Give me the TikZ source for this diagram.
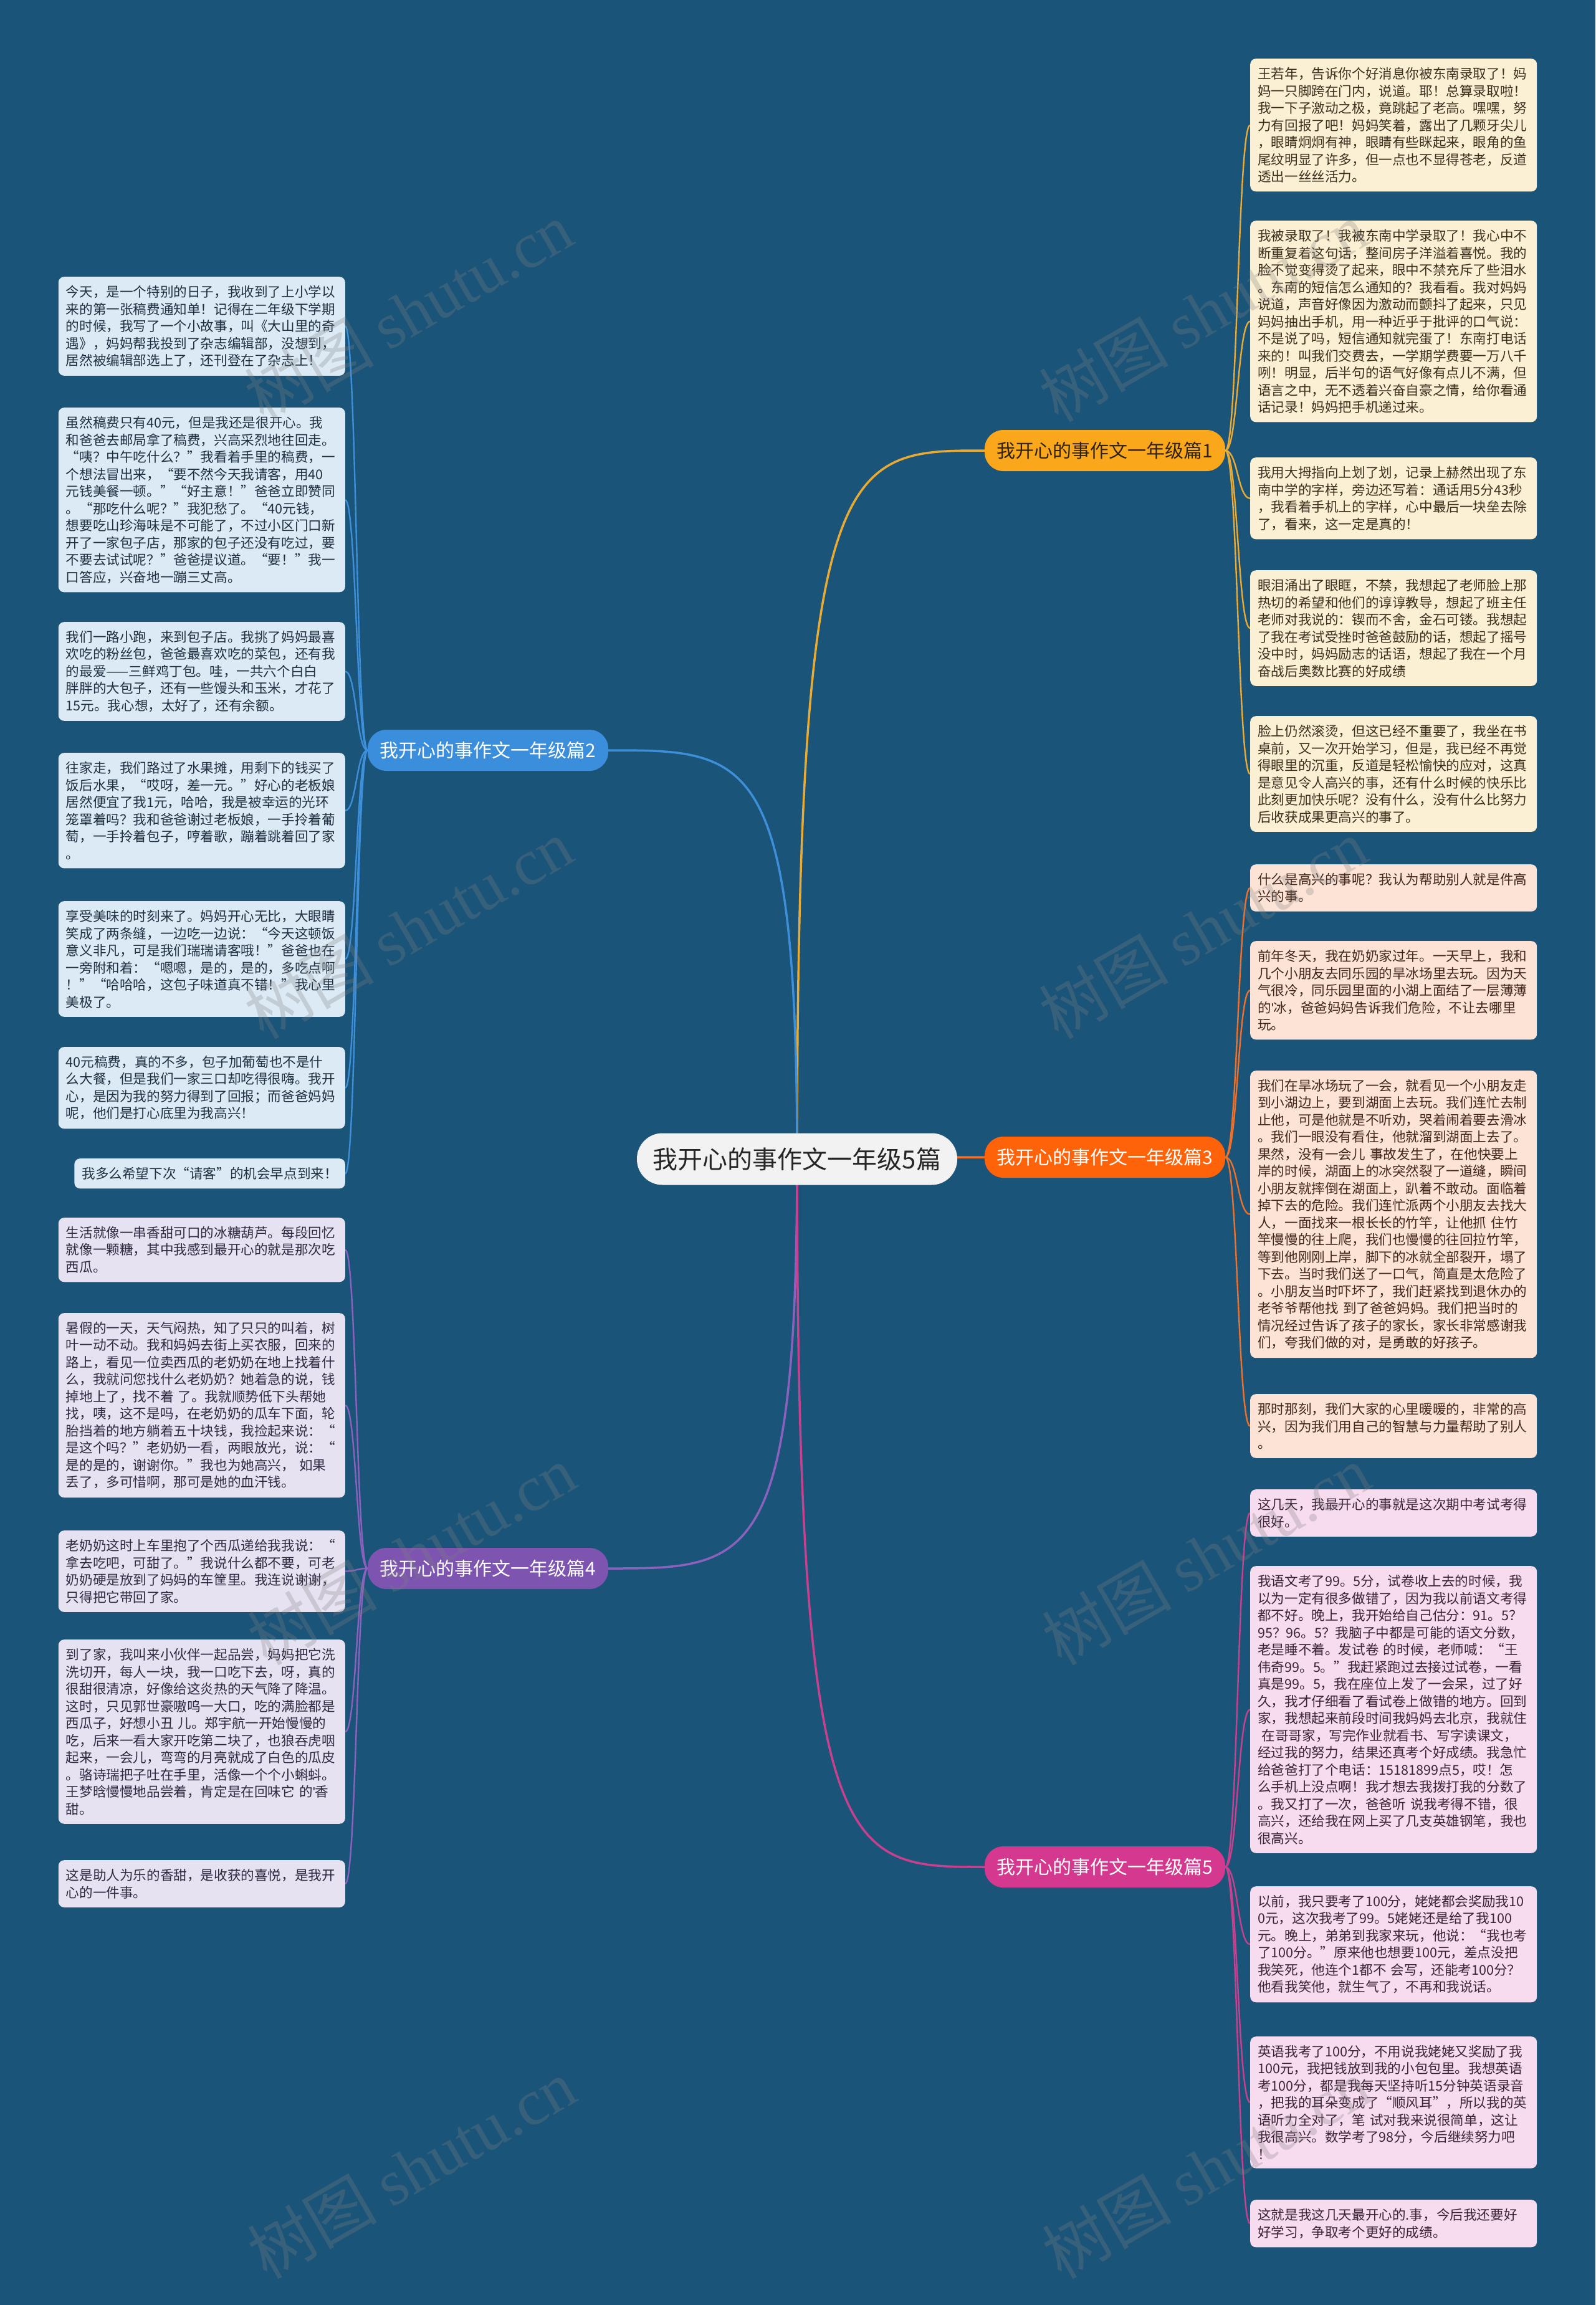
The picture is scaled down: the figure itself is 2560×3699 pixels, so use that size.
\documentclass[tikz,border=0pt]{standalone}
\usepackage{fontspec}
\setmainfont{Noto Sans CJK SC}
\newfontfamily\wmlatin{Liberation Serif}
\newfontfamily\latinsans{Liberation Sans}
\newcommand{\apos}{{\latinsans'}}
\usetikzlibrary{calc}
\definecolor{bgc}{HTML}{1B5479}
\definecolor{centerfill}{HTML}{F2F2F2}
\definecolor{c1}{HTML}{FAA71C}
\definecolor{c2}{HTML}{3A8EDB}
\definecolor{c3}{HTML}{FF6309}
\definecolor{c4}{HTML}{7D55B0}
\definecolor{c5}{HTML}{D4388F}
\definecolor{c1line}{HTML}{E9AB33}
\definecolor{c2line}{HTML}{3D8FDA}
\definecolor{c3line}{HTML}{F0702A}
\definecolor{c4line}{HTML}{8A62BD}
\definecolor{c5line}{HTML}{C9408F}
\definecolor{c1leaf}{HTML}{FCF0D4}
\definecolor{c2leaf}{HTML}{DCEAF6}
\definecolor{c3leaf}{HTML}{FDE3D5}
\definecolor{c4leaf}{HTML}{E7E2F2}
\definecolor{c5leaf}{HTML}{F7DBEF}
\definecolor{c1text}{HTML}{3D2E1E}
\definecolor{c2text}{HTML}{1E2F40}
\definecolor{c3text}{HTML}{40261C}
\definecolor{c4text}{HTML}{2E2840}
\definecolor{c5text}{HTML}{3A2436}
\definecolor{b1text}{HTML}{2E2210}
\pgfdeclarelayer{bg}
\pgfsetlayers{bg,main}
\tikzset{
  leaf/.style={rounded corners=9pt, text width=436pt, inner xsep=12pt, inner ysep=14pt,
    align=left, font=\fontsize{21.6}{27.5}\selectfont},
  leafR/.style={leaf, anchor=north west},
  leafL/.style={leaf, anchor=north east},
  branch/.style={rounded corners=30pt, minimum width=386pt, minimum height=66pt,
    font=\fontsize{30}{34}\selectfont, inner sep=0pt},
  maincurve/.style={line width=3.5pt, to path={let \p1=(\tikztostart), \p2=(\tikztotarget) in
    .. controls (\x1,\y2) and ({\x1+0.25*(\x2-\x1)},\y2) .. (\tikztotarget)}},
  leafcurve/.style={line width=2.4pt, to path={let \p1=(\tikztostart), \p2=(\tikztotarget) in
    .. controls ({0.5*(\x1+\x2)},\y1) and ({0.5*(\x1+\x2)},\y2) .. (\tikztotarget)}},
  wm/.style={text=gray, opacity=0.28, font=\fontsize{104}{110}\selectfont, rotate=30, inner sep=0pt},
}
\begin{document}
\begin{tikzpicture}[x=1pt,y=-1pt]
\useasboundingbox (0,0) rectangle (2560,3699);

% centre and branches
\node[fill=centerfill, rounded corners=41pt, minimum width=514pt, minimum height=83pt,
  font=\fontsize{40}{46}\selectfont, text=black!85] (c) at (1279,1860) {我开心的事作文一年级5篇};
\node[branch, fill=c1, text=b1text] (b1) at (1773,723) {我开心的事作文一年级篇1};
\node[branch, fill=c2, text=white] (b2) at (783,1204) {我开心的事作文一年级篇2};
\node[branch, fill=c3, text=white] (b3) at (1773,1857) {我开心的事作文一年级篇3};
\node[branch, fill=c4, text=white] (b4) at (783,2517) {我开心的事作文一年级篇4};
\node[branch, fill=c5, text=white] (b5) at (1773,2996) {我开心的事作文一年级篇5};

% branch 1 leaves
\node[leafR, fill=c1leaf, text=c1text] (l11) at (2006,94) {王若年，告诉你个好消息你被东南录取了！妈\\妈一只脚跨在门内，说道。耶！总算录取啦！\\我一下子激动之极，竟跳起了老高。嘿嘿，努\\力有回报了吧！妈妈笑着，露出了几颗牙尖儿\\，眼睛炯炯有神，眼睛有些眯起来，眼角的鱼\\尾纹明显了许多，但一点也不显得苍老，反道\\透出一丝丝活力。};
\node[leafR, fill=c1leaf, text=c1text] (l12) at (2006,354) {我被录取了！我被东南中学录取了！我心中不\\断重复着这句话，整间房子洋溢着喜悦。我的\\脸不觉变得烫了起来，眼中不禁充斥了些泪水\\。东南的短信怎么通知的？我看看。我对妈妈\\说道，声音好像因为激动而颤抖了起来，只见\\妈妈抽出手机，用一种近乎于批评的口气说：\\不是说了吗，短信通知就完蛋了！东南打电话\\来的！叫我们交费去，一学期学费要一万八千\\咧！明显，后半句的语气好像有点儿不满，但\\语言之中，无不透着兴奋自豪之情，给你看通\\话记录！妈妈把手机递过来。};
\node[leafR, fill=c1leaf, text=c1text] (l13) at (2006,734) {我用大拇指向上划了划，记录上赫然出现了东\\南中学的字样，旁边还写着：通话用5分43秒\\，我看着手机上的字样，心中最后一块垒去除\\了，看来，这一定是真的！};
\node[leafR, fill=c1leaf, text=c1text] (l14) at (2006,915) {眼泪涌出了眼眶，不禁，我想起了老师脸上那\\热切的希望和他们的谆谆教导，想起了班主任\\老师对我说的：锲而不舍，金石可镂。我想起\\了我在考试受挫时爸爸鼓励的话，想起了摇号\\没中时，妈妈励志的话语，想起了我在一个月\\奋战后奥数比赛的好成绩};
\node[leafR, fill=c1leaf, text=c1text] (l15) at (2006,1149) {脸上仍然滚烫，但这已经不重要了，我坐在书\\桌前，又一次开始学习，但是，我已经不再觉\\得眼里的沉重，反道是轻松愉快的应对，这真\\是意见令人高兴的事，还有什么时候的快乐比\\此刻更加快乐呢？没有什么，没有什么比努力\\后收获成果更高兴的事了。};

% branch 2 leaves
\node[leafL, fill=c2leaf, text=c2text] (l21) at (554,444) {今天，是一个特别的日子，我收到了上小学以\\来的第一张稿费通知单！记得在二年级下学期\\的时候，我写了一个小故事，叫《大山里的奇\\遇》，妈妈帮我投到了杂志编辑部，没想到，\\居然被编辑部选上了，还刊登在了杂志上！};
\node[leafL, fill=c2leaf, text=c2text] (l22) at (554,654) {虽然稿费只有40元，但是我还是很开心。我\\和爸爸去邮局拿了稿费，兴高采烈地往回走。\\“咦？中午吃什么？”我看着手里的稿费，一\\个想法冒出来，“要不然今天我请客，用40\\元钱美餐一顿。”“好主意！”爸爸立即赞同\\。“那吃什么呢？”我犯愁了。“40元钱，\\想要吃山珍海味是不可能了，不过小区门口新\\开了一家包子店，那家的包子还没有吃过，要\\不要去试试呢？”爸爸提议道。“要！”我一\\口答应，兴奋地一蹦三丈高。};
\node[leafL, fill=c2leaf, text=c2text] (l23) at (554,998) {我们一路小跑，来到包子店。我挑了妈妈最喜\\欢吃的粉丝包，爸爸最喜欢吃的菜包，还有我\\的最爱——三鲜鸡丁包。哇，一共六个白白\\胖胖的大包子，还有一些馒头和玉米，才花了\\15元。我心想，太好了，还有余额。};
\node[leafL, fill=c2leaf, text=c2text] (l24) at (554,1208) {往家走，我们路过了水果摊，用剩下的钱买了\\饭后水果，“哎呀，差一元。”好心的老板娘\\居然便宜了我1元，哈哈，我是被幸运的光环\\笼罩着吗？我和爸爸谢过老板娘，一手拎着葡\\萄，一手拎着包子，哼着歌，蹦着跳着回了家\\。};
\node[leafL, fill=c2leaf, text=c2text] (l25) at (554,1446) {享受美味的时刻来了。妈妈开心无比，大眼睛\\笑成了两条缝，一边吃一边说：“今天这顿饭\\意义非凡，可是我们瑞瑞请客哦！”爸爸也在\\一旁附和着：“嗯嗯，是的，是的，多吃点啊\\！”“哈哈哈，这包子味道真不错！”我心里\\美极了。};
\node[leafL, fill=c2leaf, text=c2text] (l26) at (554,1680) {40元稿费，真的不多，包子加葡萄也不是什\\么大餐，但是我们一家三口却吃得很嗨。我开\\心，是因为我的努力得到了回报；而爸爸妈妈\\呢，他们是打心底里为我高兴！};
\node[leafL, fill=c2leaf, text=c2text, text width=] (l27) at (554,1859) {我多么希望下次“请客”的机会早点到来！};

% branch 3 leaves
\node[leafR, fill=c3leaf, text=c3text] (l31) at (2006,1387) {什么是高兴的事呢？我认为帮助别人就是件高\\兴的事。};
\node[leafR, fill=c3leaf, text=c3text] (l32) at (2006,1510) {前年冬天，我在奶奶家过年。一天早上，我和\\几个小朋友去同乐园的旱冰场里去玩。因为天\\气很冷，同乐园里面的小湖上面结了一层薄薄\\的\apos 冰，爸爸妈妈告诉我们危险，不让去哪里\\玩。};
\node[leafR, fill=c3leaf, text=c3text] (l33) at (2006,1718) {我们在旱冰场玩了一会，就看见一个小朋友走\\到小湖边上，要到湖面上去玩。我们连忙去制\\止他，可是他就是不听劝，哭着闹着要去滑冰\\。我们一眼没有看住，他就溜到湖面上去了。\\果然，没有一会儿~事故发生了，在他快要上\\岸的时候，湖面上的冰突然裂了一道缝，瞬间\\小朋友就摔倒在湖面上，趴着不敢动。面临着\\掉下去的危险。我们连忙派两个小朋友去找大\\人，一面找来一根长长的竹竿，让他抓~住竹\\竿慢慢的往上爬，我们也慢慢的往回拉竹竿，\\等到他刚刚上岸，脚下的冰就全部裂开，塌了\\下去。当时我们送了一口气，简直是太危险了\\。小朋友当时吓坏了，我们赶紧找到退休办的\\老爷爷帮他找~到了爸爸妈妈。我们把当时的\\情况经过告诉了孩子的家长，家长非常感谢我\\们，夸我们做的对，是勇敢的好孩子。};
\node[leafR, fill=c3leaf, text=c3text] (l34) at (2006,2237) {那时那刻，我们大家的心里暖暖的，非常的高\\兴，因为我们用自己的智慧与力量帮助了别人\\。};

% branch 4 leaves
\node[leafL, fill=c4leaf, text=c4text] (l41) at (554,1954) {生活就像一串香甜可口的冰糖葫芦。每段回忆\\就像一颗糖，其中我感到最开心的就是那次吃\\西瓜。};
\node[leafL, fill=c4leaf, text=c4text] (l42) at (554,2107) {暑假的一天，天气闷热，知了只只的叫着，树\\叶一动不动。我和妈妈去街上买衣服，回来的\\路上，看见一位卖西瓜的老奶奶在地上找着什\\么，我就问您找什么老奶奶？她着急的说，钱\\掉地上了，找不着~了。我就顺势低下头帮她\\找，咦，这不是吗，在老奶奶的瓜车下面，轮\\胎挡着的地方躺着五十块钱，我捡起来说：“\\是这个吗？”老奶奶一看，两眼放光，说：“\\是的是的，谢谢你。”我也为她高兴，~如果\\丢了，多可惜啊，那可是她的血汗钱。};
\node[leafL, fill=c4leaf, text=c4text] (l43) at (554,2456) {老奶奶这时上车里抱了个西瓜递给我我说：“\\拿去吃吧，可甜了。”我说什么都不要，可老\\奶奶硬是放到了妈妈的车筐里。我连说谢谢，\\只得把它带回了家。};
\node[leafL, fill=c4leaf, text=c4text] (l44) at (554,2631) {到了家，我叫来小伙伴一起品尝，妈妈把它洗\\洗切开，每人一块，我一口吃下去，呀，真的\\很甜很清凉，好像给这炎热的天气降了降温。\\这时，只见郭世豪嗷呜一大口，吃的满脸都是\\西瓜子，好想小丑~儿。郑宇航一开始慢慢的\\吃，后来一看大家开吃第二块了，也狼吞虎咽\\起来，一会儿，弯弯的月亮就成了白色的瓜皮\\。骆诗瑞把子吐在手里，活像一个个小蝌蚪。\\王梦晗慢慢地品尝着，肯定是在回味它~的\apos 香\\甜。};
\node[leafL, fill=c4leaf, text=c4text] (l45) at (554,2985) {这是助人为乐的香甜，是收获的喜悦，是我开\\心的一件事。};

% branch 5 leaves
\node[leafR, fill=c5leaf, text=c5text] (l51) at (2006,2390) {这几天，我最开心的事就是这次期中考试考得\\很好。};
\node[leafR, fill=c5leaf, text=c5text] (l52) at (2006,2513) {我语文考了99。5分，试卷收上去的时候，我\\以为一定有很多做错了，因为我以前语文考得\\都不好。晚上，我开始给自己估分：91。5？\\95？96。5？我脑子中都是可能的语文分数，\\老是睡不着。发试卷~的时候，老师喊：“王\\伟奇99。5。”我赶紧跑过去接过试卷，一看\\真是99。5，我在座位上发了一会呆，过了好\\久，我才仔细看了看试卷上做错的地方。回到\\家，我想起来前段时间我妈妈去北京，我就住\\\hspace*{0.3em}在哥哥家，写完作业就看书、写字读课文，\\经过我的努力，结果还真考个好成绩。我急忙\\给爸爸打了个电话：15181899点5，哎！怎\\么手机上没点啊！我才想去我拨打我的分数了\\。我又打了一次，爸爸听~说我考得不错，很\\高兴，还给我在网上买了几支英雄钢笔，我也\\很高兴。};
\node[leafR, fill=c5leaf, text=c5text] (l53) at (2006,3027) {以前，我只要考了100分，姥姥都会奖励我10\\0元，这次我考了99。5姥姥还是给了我100\\元。晚上，弟弟到我家来玩，他说：“我也考\\了100分。”原来他也想要100元，差点没把\\我笑死，他连个1都不~会写，还能考100分？\\他看我笑他，就生气了，不再和我说话。};
\node[leafR, fill=c5leaf, text=c5text] (l54) at (2006,3268) {英语我考了100分，不用说我姥姥又奖励了我\\100元，我把钱放到我的小包包里。我想英语\\考100分，都是我每天坚持听15分钟英语录音\\，把我的耳朵变成了“顺风耳”，所以我的英\\语听力全对了，笔~试对我来说很简单，这让\\我很高兴。数学考了98分，今后继续努力吧\\！};
\node[leafR, fill=c5leaf, text=c5text] (l55) at (2006,3530) {这就是我这几天最开心的.事，今后我还要好\\好学习，争取考个更好的成绩。};

% connectors
\begin{pgfonlayer}{bg}
\fill[bgc] (0,0) rectangle (2560,3699);
\draw[c1line, maincurve] (c.center) to (b1.west);
\draw[c2line, maincurve] (c.center) to (b2.east);
\draw[c3line, maincurve] (c.center) to (b3.west);
\draw[c4line, maincurve] (c.center) to (b4.east);
\draw[c5line, maincurve] (c.center) to (b5.west);
\foreach \lf in {l11,l12,l13,l14,l15} \draw[c1line, leafcurve] (b1.east) to (\lf.west);
\foreach \lf in {l21,l22,l23,l24,l25,l26,l27} \draw[c2line, leafcurve] (b2.west) to (\lf.east);
\foreach \lf in {l31,l32,l33,l34} \draw[c3line, leafcurve] (b3.east) to (\lf.west);
\foreach \lf in {l41,l42,l43,l44,l45} \draw[c4line, leafcurve] (b4.west) to (\lf.east);
\foreach \lf in {l51,l52,l53,l54,l55} \draw[c5line, leafcurve] (b5.east) to (\lf.west);
\end{pgfonlayer}

% watermarks
\foreach \wx/\wy [count=\i] in {655/500, 655/1490, 660/2495, 660/3480, 1930/500, 1930/1490, 1935/2495, 1935/3480}
  \node[wm] (wm\i) at (\wx,\wy) {树图 {\wmlatin shutu.cn}};
\end{tikzpicture}
\end{document}
